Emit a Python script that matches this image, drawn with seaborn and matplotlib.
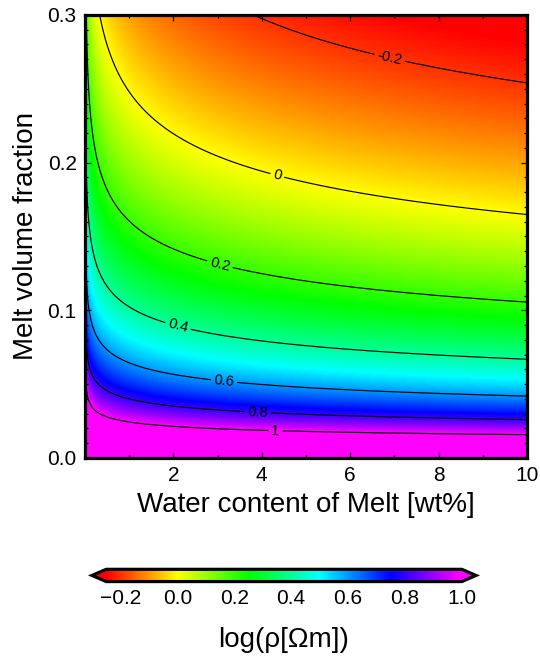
import numpy as np
import matplotlib
matplotlib.use("Agg")
import matplotlib.pyplot as plt
from matplotlib.colors import Normalize
from matplotlib.ticker import MultipleLocator
import seaborn as sns

# ---- model grid -------------------------------------------------------
water_content = np.linspace(0.01, 10.0, 700)     # wt% H2O in melt
melt_fraction = np.linspace(0.0, 0.3, 500)       # volume fraction

# melt conductivity: sigma_m = s1 * w**n ; solid matrix conductivity
sigma_melt_at_1wt = 5.5     # S/m
water_exponent = 0.19
sigma_solid = 0.01          # S/m

contour_levels = [-0.2, 0.0, 0.2, 0.4, 0.6, 0.8, 1.0]
cbar_ticks = [-0.2, 0.0, 0.2, 0.4, 0.6, 0.8, 1.0]
x_ticks = [2, 4, 6, 8, 10]
y_ticks = [0.0, 0.1, 0.2, 0.3]
color_stops = ["#ff0000", "#ffff00", "#00ff00", "#00ffff", "#0000ff", "#ff00ff"]
value_range = (-0.25, 1.0)

# where the contour labels sit (data coordinates)
label_spots = [(6.87, 0.268), (4.34, 0.190), (3.05, 0.131), (2.10, 0.089),
               (3.14, 0.0515), (3.91, 0.032), (4.31, 0.019)]

# ---- bulk resistivity (Hashin-Shtrikman upper bound) ------------------
W, PHI = np.meshgrid(water_content, melt_fraction)
sig_m = sigma_melt_at_1wt * W ** water_exponent
sig_bulk = sig_m + (1 - PHI) / (1.0 / (sigma_solid - sig_m) + PHI / (3.0 * sig_m))
log_rho = np.log10(1.0 / sig_bulk)

# ---- styling ------------------------------------------------------------
sns.set_style("ticks")
plt.rcParams["font.family"] = ["Liberation Sans", "DejaVu Sans"]
plt.rcParams["contour.negative_linestyle"] = "solid"
for key in ["text.color", "axes.labelcolor", "xtick.color", "ytick.color",
            "axes.edgecolor"]:
    plt.rcParams[key] = "black"

cmap = sns.blend_palette(color_stops, n_colors=256, as_cmap=True)
cmap.set_under(color_stops[0])
cmap.set_over(color_stops[-1])
norm = Normalize(vmin=value_range[0], vmax=value_range[1])

fig = plt.figure(figsize=(5.4, 6.62), dpi=100)
ax = fig.add_axes([0.1574, 0.3082, 0.8185, 0.6692])

im = ax.imshow(log_rho, origin="lower", aspect="auto", cmap=cmap, norm=norm,
               extent=[0.0, 10.0, 0.0, 0.3], interpolation="bilinear")
cs = ax.contour(W, PHI, log_rho, levels=contour_levels, colors="black",
                linewidths=0.85, linestyles="solid")
ax.clabel(cs, levels=contour_levels, fmt=lambda v: f"{v:g}", fontsize=10.5,
          inline=True, inline_spacing=3, manual=label_spots)

ax.set_xlim(0, 10)
ax.set_ylim(0, 0.3)
ax.set_xticks(x_ticks)
ax.set_yticks(y_ticks)
ax.set_yticklabels([f"{v:.1f}" for v in y_ticks])
ax.xaxis.set_minor_locator(MultipleLocator(1))
ax.yaxis.set_minor_locator(MultipleLocator(0.01))
ax.tick_params(which="both", direction="in", top=True, right=True,
               labelsize=15, width=0.9, colors="black")
ax.tick_params(which="major", length=4.5, pad=6)
ax.tick_params(which="minor", length=2.3)
for sp in ax.spines.values():
    sp.set_linewidth(2.3)
    sp.set_color("black")
ax.set_xlabel("Water content of Melt [wt%]", fontsize=20, labelpad=5)
ax.set_ylabel("Melt volume fraction", fontsize=20, labelpad=6)

# ---- colour bar (axes box includes the end triangles) -------------------
cax = fig.add_axes([0.1704, 0.1215, 0.7111, 0.0185])
cbar = fig.colorbar(im, cax=cax, orientation="horizontal", extend="both",
                    ticks=cbar_ticks, extendfrac=0.04)
cbar.outline.set_linewidth(2.3)
cbar.outline.set_edgecolor("black")
cbar.ax.xaxis.set_minor_locator(MultipleLocator(0.1))
cbar.ax.tick_params(which="both", direction="in", bottom=True, top=False,
                    labelsize=15, width=0.9, colors="black")
cbar.ax.tick_params(which="major", length=6, pad=5)
cbar.ax.tick_params(which="minor", length=3)
cbar.ax.set_xticklabels([f"{v:.1f}".replace("-", "\u2212") for v in cbar_ticks])
cbar.set_label("log(\u03c1[\u03a9m])", fontsize=20, labelpad=14, color="black")

fig.savefig("out.png", dpi=100)
